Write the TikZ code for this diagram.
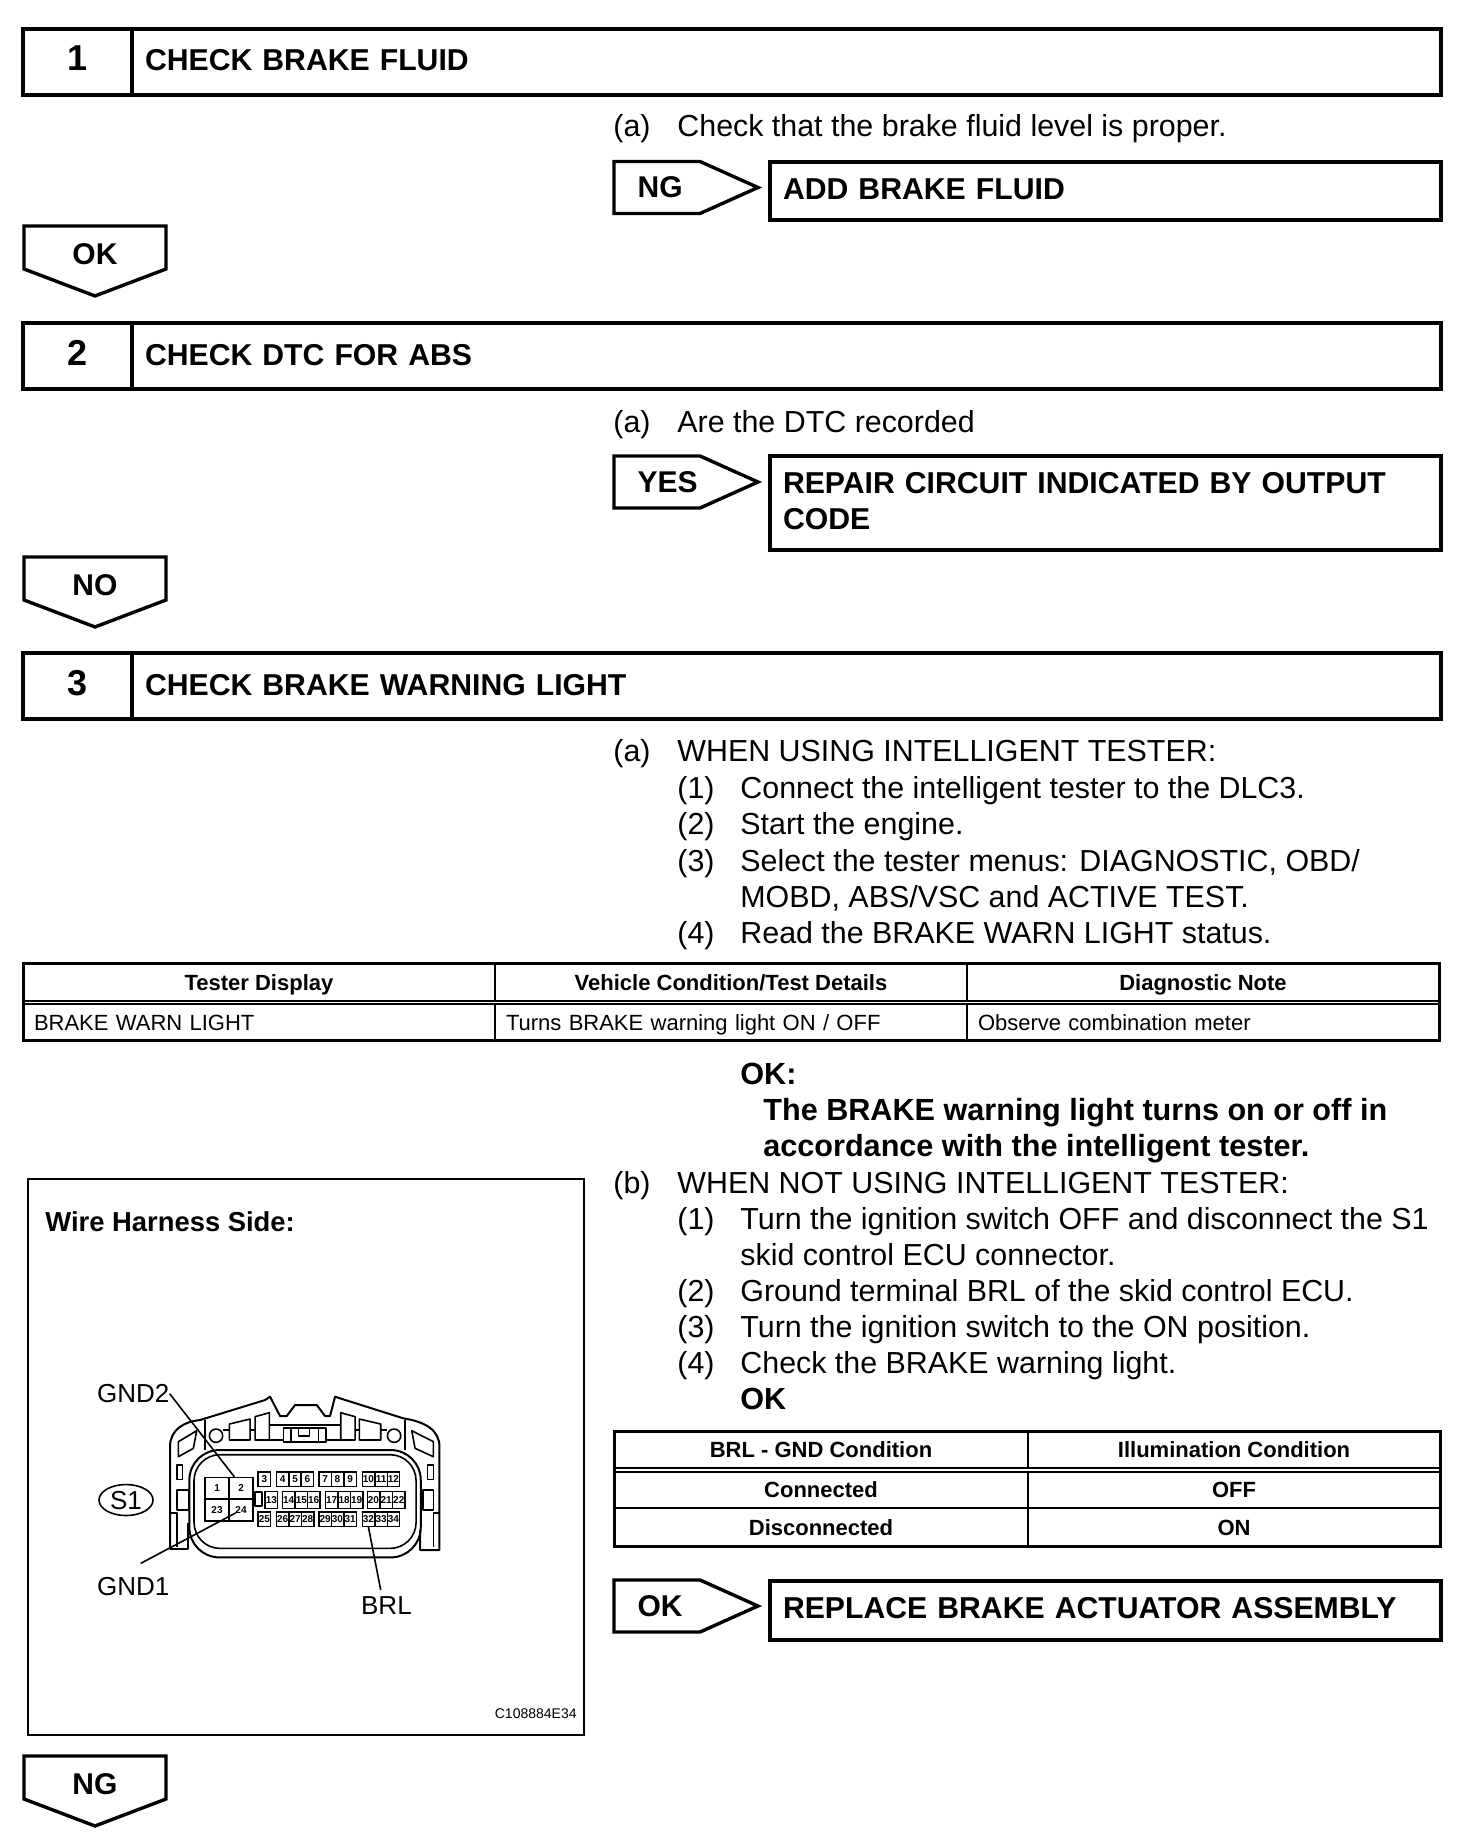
\documentclass[tikz,border=0pt]{standalone}
\usepackage{fontspec}
\setmainfont{Liberation Sans}
\usetikzlibrary{shapes.symbols,shapes.geometric}

\begin{document}
\begin{tikzpicture}[x=0.5pt,y=-0.5pt,
    bodytxt/.style={anchor=base west,inner sep=0pt,font=\fontsize{15.2}{18}\selectfont},
    boldtxt/.style={anchor=base west,inner sep=0pt,font=\fontsize{15.3}{18}\selectfont\bfseries},
    numcell/.style={draw,line width=2pt,anchor=north west,outer sep=0pt,minimum width=54.5pt,minimum height=33pt,text height=13pt,text depth=4pt,font=\fontsize{18}{20}\selectfont\bfseries},
    titlecell/.style={draw,line width=2pt,anchor=north west,outer sep=0pt,inner xsep=6.5pt,text width=641.5pt,minimum height=33pt,text height=11pt,text depth=2pt,align=left,font=\fontsize{15.1}{18}\selectfont\bfseries},
    actioncell/.style={draw,line width=2pt,anchor=north west,outer sep=0pt,inner xsep=6.5pt,text width=322.5pt,text height=11pt,text depth=2.7pt,align=left,font=\fontsize{15.1}{18.2}\selectfont\bfseries},
    gosign/.style={draw,line width=1.7pt,signal,signal to=east,signal pointer angle=48.3,outer sep=0pt,inner xsep=0pt,inner ysep=0pt,text width=43pt,minimum height=26pt,align=left,execute at begin node=\hspace*{11.8pt},font=\fontsize{15}{18}\selectfont\bfseries},
    downsign/.style={draw,line width=1.7pt,signal,signal to=south,signal pointer angle=138.4,outer sep=0pt,inner xsep=0pt,inner ysep=2.05pt,text width=71pt,text height=17.4pt,text depth=0pt,align=center,font=\fontsize{15}{18}\selectfont\bfseries},
    tcell/.style={draw,line width=0.8pt,anchor=north west,outer sep=0pt,text height=8pt,text depth=0pt,font=\fontsize{11}{13}\selectfont},
    tbold/.style={tcell,font=\fontsize{11}{13}\selectfont\bfseries},
    tframe/.style={draw,line width=1.5pt},
    pinbox/.style={draw,line width=0.7pt,inner sep=0pt,minimum width=6.2pt,minimum height=7.2pt,font=\fontsize{5}{6}\selectfont\bfseries},
    pinbig/.style={draw,line width=0.7pt,inner sep=0pt,minimum width=12pt,minimum height=10.8pt,font=\fontsize{5}{6}\selectfont\bfseries},
    conn/.style={line width=0.8pt,line join=round},
    conntxt/.style={anchor=base west,inner sep=0pt,font=\fontsize{13}{15}\selectfont}]
    \useasboundingbox (0,0) rectangle (1472,1846);

    \node[numcell] (num1) at (23,29) {1};
    \node[titlecell] (head1) at (132,29) {CHECK BRAKE FLUID};
    \node[bodytxt] (a1) at (613,137) {(a)};
    \node[bodytxt] (a1t) at (677,137) {Check that the brake fluid level is proper.};
    \node[gosign] (ng1) at (657,187.5) {NG};
    \node[actioncell,minimum height=29pt] (add1) at (770,162) {ADD BRAKE FLUID};
    \node[downsign] (ok1) at (95,247.5) {OK};

    \node[numcell] (num2) at (23,323) {2};
    \node[titlecell] (head2) at (132,323) {CHECK DTC FOR ABS};
    \node[bodytxt] (a2) at (613,432) {(a)};
    \node[bodytxt] (a2t) at (677,432) {Are the DTC recorded};
    \node[gosign] (yes2) at (657,482) {YES};
    \node[actioncell,minimum height=47pt,text depth=20.9pt] (rep2) at (770,456) {REPAIR CIRCUIT INDICATED BY OUTPUT\\CODE};
    \node[downsign] (no2) at (95,578.5) {NO};

    \node[numcell] (num3) at (23,653) {3};
    \node[titlecell] (head3) at (132,653) {CHECK BRAKE WARNING LIGHT};
    \node[bodytxt] (a3) at (613,761) {(a)};
    \node[bodytxt] (a3t) at (677,761) {WHEN USING INTELLIGENT TESTER:};
    \node[bodytxt] (a31) at (677,798) {(1)};
    \node[bodytxt] (a31t) at (740,798) {Connect the intelligent tester to the DLC3.};
    \node[bodytxt] (a32) at (677,834) {(2)};
    \node[bodytxt] (a32t) at (740,834) {Start the engine.};
    \node[bodytxt] (a33) at (677,871) {(3)};
    \node[bodytxt] (a33t) at (740,871) {Select the tester menus: DIAGNOSTIC, OBD/};
    \node[bodytxt] (a33u) at (740,907) {MOBD, ABS/VSC and ACTIVE TEST.};
    \node[bodytxt] (a34) at (677,943) {(4)};
    \node[bodytxt] (a34t) at (740,943) {Read the BRAKE WARN LIGHT status.};

    \node[tbold,minimum width=236pt,minimum height=18.7pt] (th1) at (23,963.5) {Tester Display};
    \node[tbold,minimum width=236pt,minimum height=18.7pt] (th2) at (495,963.5) {Vehicle Condition/Test Details};
    \node[tbold,minimum width=236pt,minimum height=18.7pt] (th3) at (967,963.5) {Diagnostic Note};
    \node[tcell,inner xsep=5.5pt,text width=225pt,minimum height=18.3pt,align=left] (td1) at (23,1004) {BRAKE WARN LIGHT};
    \node[tcell,inner xsep=5.5pt,text width=225pt,minimum height=18.3pt,align=left] (td2) at (495,1004) {Turns BRAKE warning light ON / OFF};
    \node[tcell,inner xsep=5.5pt,text width=225pt,minimum height=18.3pt,align=left] (td3) at (967,1004) {Observe combination meter};
    \draw[tframe] (th1.north west) rectangle (td3.south east);

    \node[boldtxt] (okhead) at (740,1084) {OK:};
    \node[boldtxt] (okt1) at (763,1120) {The BRAKE warning light turns on or off in};
    \node[boldtxt] (okt2) at (763,1156) {accordance with the intelligent tester.};

    \node[bodytxt] (b3) at (613,1193) {(b)};
    \node[bodytxt] (b3t) at (677,1193) {WHEN NOT USING INTELLIGENT TESTER:};
    \node[bodytxt] (b31) at (677,1229) {(1)};
    \node[bodytxt] (b31t) at (740,1229) {Turn the ignition switch OFF and disconnect the S1};
    \node[bodytxt] (b31u) at (740,1265) {skid control ECU connector.};
    \node[bodytxt] (b32) at (677,1301) {(2)};
    \node[bodytxt] (b32t) at (740,1301) {Ground terminal BRL of the skid control ECU.};
    \node[bodytxt] (b33) at (677,1337) {(3)};
    \node[bodytxt] (b33t) at (740,1337) {Turn the ignition switch to the ON position.};
    \node[bodytxt] (b34) at (677,1373) {(4)};
    \node[bodytxt] (b34t) at (740,1373) {Check the BRAKE warning light.};
    \node[boldtxt] (okb) at (740,1409) {OK};

    \node[tbold,minimum width=207pt,minimum height=18.5pt] (bh1) at (614,1431) {BRL - GND Condition};
    \node[tbold,minimum width=206pt,minimum height=18.5pt] (bh2) at (1028,1431) {Illumination Condition};
    \node[tbold,minimum width=207pt,minimum height=18pt,text depth=1pt] (br1) at (614,1472) {Connected};
    \node[tbold,minimum width=206pt,minimum height=18pt,text depth=1pt] (br2) at (1028,1472) {OFF};
    \node[tbold,minimum width=207pt,minimum height=19pt] (br3) at (614,1508) {Disconnected};
    \node[tbold,minimum width=206pt,minimum height=19pt] (br4) at (1028,1508) {ON};
    \draw[tframe] (bh1.north west) rectangle (br4.south east);

    \node[gosign] (ok3) at (657,1606) {OK};
    \node[actioncell,minimum height=29.5pt] (rep3) at (770,1581) {REPLACE BRAKE ACTUATOR ASSEMBLY};
    \node[downsign] (ng3) at (95,1777.5) {NG};

    \node[draw,line width=1pt,anchor=north west,outer sep=0pt,minimum width=278pt,minimum height=278pt] (frame) at (28,1179) {};
    \node[anchor=base west,inner sep=0pt,font=\fontsize{13.7}{15}\selectfont\bfseries] (wire) at (45,1231) {Wire Harness Side:};
    \node[anchor=base east,inner sep=0pt,font=\fontsize{7}{9}\selectfont] (code) at (577,1718) {C108884E34};

    \begin{scope}[shift={(20,1340)},x=0.1667pt,y=-0.1667pt]
    \draw[conn,line width=1pt] (450,628) -- (450,320) .. controls (450,270) and (490,245) .. (540,240) -- (735,180) -- (750,170) -- (780,228) -- (800,228) -- (825,195) -- (890,195) -- (915,228) -- (930,228) -- (945,170) -- (960,175) -- (1150,235) .. controls (1215,245) and (1258,270) .. (1258,320) -- (1258,630) -- (1200,630) -- (1200,570);
    \draw[conn,line width=1pt] (450,628) -- (505,628) -- (505,550);
    \draw[conn,line width=1pt,rounded corners=15pt] (508,330) rectangle (1202,652);
    \draw[conn,rounded corners=13pt] (522,344) rectangle (1188,625);
    \draw[conn] (555,240) -- (555,330);
    \draw[conn] (1155,240) -- (1155,330);
    \draw[conn] (588,287) circle (20);
    \draw[conn] (1122,287) circle (20);
    \draw[conn] (628,252) -- (690,237) -- (690,300) -- (628,300) -- cycle;
    \draw[conn] (705,230) -- (748,218) -- (748,300) -- (705,300) -- cycle;
    \draw[conn] (962,218) -- (1005,230) -- (1005,300) -- (962,300) -- cycle;
    \draw[conn] (1018,237) -- (1082,252) -- (1082,300) -- (1018,300) -- cycle;
    \draw[conn] (608,270) -- (628,270) (690,270) -- (705,270) (748,255) -- (962,255) (1005,270) -- (1018,270) (1082,270) -- (1102,270);
    \draw[conn] (748,300) -- (790,300) (918,300) -- (962,300);
    \draw[conn] (790,264) rectangle (918,305);
    \draw[conn] (812,264) -- (812,305) (895,264) -- (895,305);
    \draw[conn] (835,268) -- (835,287) -- (868,287) -- (868,268);
    \draw[conn] (475,350) -- (475,305) -- (530,272) -- (520,325) -- cycle;
    \draw[conn] (1240,350) -- (1240,305) -- (1175,272) -- (1185,325) -- cycle;
    \draw[conn] (470,375) rectangle (487,418);
    \draw[conn] (1222,375) rectangle (1240,418);
    \draw[conn] (470,450) rectangle (505,510);
    \draw[conn] (1208,450) rectangle (1240,510);
    \draw[conn] (450,518) -- (470,518) -- (470,620);
    \draw[conn] (1258,518) -- (1240,518) -- (1240,620);
    \draw[conn] (705,455) rectangle (725,497);

    \node[pinbig] (pin1) at (591,445) {1};
    \node[pinbig] (pin2) at (663,445) {2};
    \node[pinbig] (pin23) at (591,510) {23};
    \node[pinbig] (pin24) at (663,510) {24};
    \foreach \xx/\pn in {733/3,788/4,825/5,862/6,915/7,952/8,990/9,1045/10,1083/11,1120/12}
        \node[pinbox] (pin\pn) at (\xx,418) {\pn};
    \foreach \xx/\pn in {754/13,806/14,844/15,881/16,935/17,972/18,1010/19,1060/20,1098/21,1136/22}
        \node[pinbox,minimum height=8.3pt] (pin\pn) at (\xx,480) {\pn};
    \foreach \xx/\pn in {733/25,788/26,825/27,863/28,915/29,952/30,990/31,1045/32,1083/33,1120/34}
        \node[pinbox] (pin\pn) at (\xx,537) {\pn};

    \node[conntxt] (gndtwo) at (230,188) {GND2};
    \node[conntxt] (gndone) at (230,765) {GND1};
    \node[conntxt] (brl) at (1022,822) {BRL};
    \node[draw,line width=0.8pt,ellipse,inner sep=0pt,minimum width=27pt,minimum height=15.5pt,font=\fontsize{13}{15}\selectfont] (sone) at (318,480) {S1};
    \coordinate (gndonetip) at (362,670);
    \coordinate (brltip) at (1082,750);
    \draw[conn] (gndtwo.east) -- (pin2.120);
    \draw[conn,shorten >=3pt] (gndonetip) -- (pin24.center);
    \draw[conn] (pin32.south) -- (brltip);
    \end{scope}
\end{tikzpicture}
\end{document}
